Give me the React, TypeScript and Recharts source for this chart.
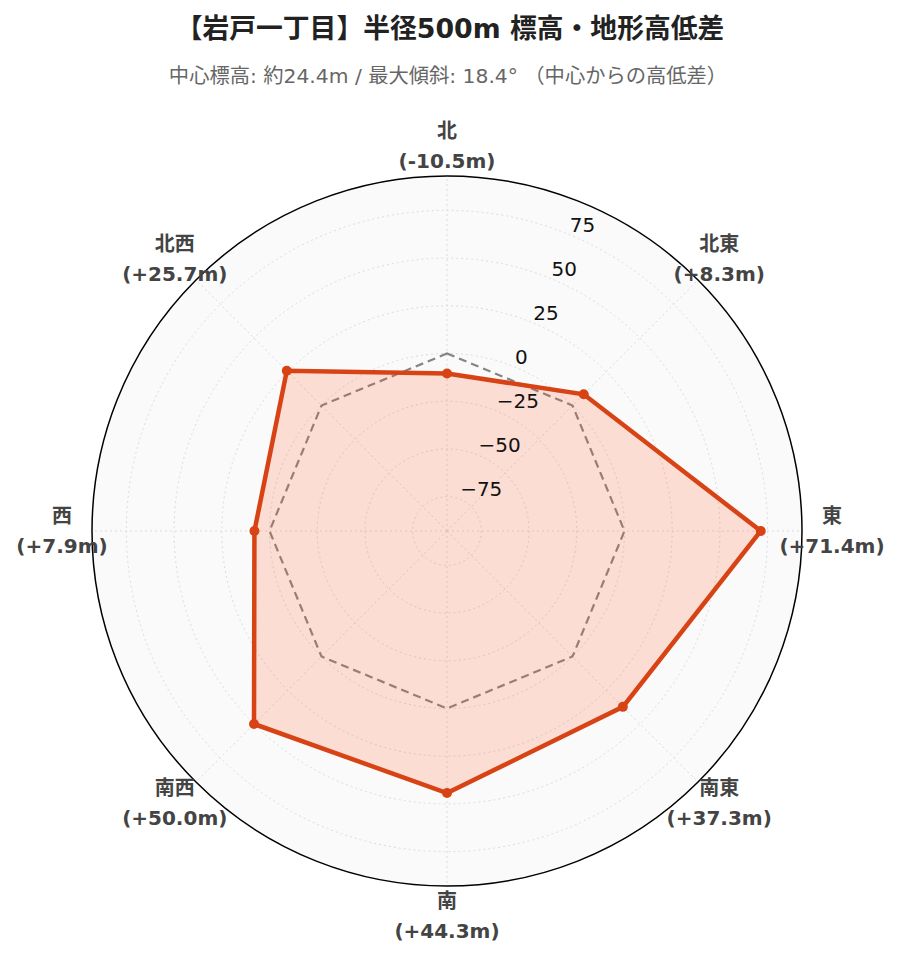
import React from 'react';
import { RadarChart, Radar, PolarGrid, PolarAngleAxis, PolarRadiusAxis } from 'recharts';

const directions = ['北', '北東', '東', '南東', '南', '南西', '西', '北西'];
const diffValues = [-10.5, 8.3, 71.4, 37.3, 44.3, 50.0, 7.9, 25.7];
const referenceValues = [0, 0, 0, 0, 0, 0, 0, 0];
const radiusTicks = [-75, -50, -25, 0, 25, 50, 75];
const radiusDomain: [number, number] = [-92.82, 92.82];

const titleText = '【岩戸一丁目】半径500m 標高・地形高低差';
const subtitleText = '中心標高: 約24.4m / 最大傾斜: 18.4° （中心からの高低差）';

const data = directions.map((d, i) => ({ dir: d, val: diffValues[i], ref: referenceValues[i] }));

const W = 900;
const H = 962;
const CX = 447;
const CY = 531;
const R = 355;
const FONT = "'DejaVu Sans', 'Noto Sans CJK JP', sans-serif";

const fmtVal = (v: number) => `(${v > 0 ? '+' : v < 0 ? '-' : ''}${Math.abs(v).toFixed(1)}m)`;

const AngleTick = (props: any) => {
  const { x, y, payload, index } = props;
  const v = diffValues[index ?? payload.index];
  return (
    <g>
      <text x={x} y={y - 15} textAnchor="middle" dominantBaseline="central" fontSize={20} fontWeight={700} fill="#444" fontFamily={FONT}>
        {payload.value}
      </text>
      <text x={x} y={y + 15} textAnchor="middle" dominantBaseline="central" fontSize={20} fontWeight={700} fill="#444" fontFamily={FONT}>
        {fmtVal(v)}
      </text>
    </g>
  );
};

const RadiusTick = (props: any) => {
  const { x, y, payload } = props;
  const v = payload.value as number;
  const label = v < 0 ? `\u2212${Math.abs(v)}` : `${v}`;
  return (
    <text x={x} y={y - 10} textAnchor="start" dominantBaseline="central" fontSize={20} fill="#111" fontFamily={FONT}>
      {label}
    </text>
  );
};

export default function App() {
  return (
    <div style={{ position: 'relative', width: W, height: H, margin: -8, background: '#fff' }}>
      <svg width={W} height={H} style={{ position: 'absolute', left: 0, top: 0 }}>
        <circle cx={CX} cy={CY} r={R} fill="#fafafa" />
        <text x={450} y={28} textAnchor="middle" dominantBaseline="central" fontSize={26.8} fontWeight={700} fill="#222" fontFamily={FONT}>
          {titleText}
        </text>
        <text x={448} y={76} textAnchor="middle" dominantBaseline="central" fontSize={20.3} fill="#666" fontFamily={FONT}>
          {subtitleText}
        </text>
      </svg>
      <div style={{ position: 'absolute', left: 0, top: 0 }}>
        <RadarChart width={W} height={H} data={data} cx={CX} cy={CY} outerRadius={R} startAngle={90} endAngle={-270} margin={{ top: 0, right: 0, bottom: 0, left: 0 }}>
          <PolarGrid gridType="circle" stroke="#d6dde3" strokeWidth={1} strokeDasharray="2 3" />
          <PolarAngleAxis dataKey="dir" tick={<AngleTick />} tickLine={false} tickSize={30} axisLineType="circle" axisLine={{ stroke: '#000', strokeWidth: 1.5 }} />
          <PolarRadiusAxis angle={67.5} domain={radiusDomain} ticks={radiusTicks} type="number" axisLine={false} tickLine={false} tick={<RadiusTick />} allowDataOverflow />
          <Radar dataKey="ref" stroke="#858585" strokeWidth={2.2} strokeDasharray="8 5" fill="none" fillOpacity={0} dot={false} isAnimationActive={false} />
          <Radar dataKey="val" stroke="#d84315" strokeWidth={4.5} fill="#ff5722" fillOpacity={0.18} dot={{ r: 5, fill: '#d84315', stroke: '#d84315', strokeWidth: 0, fillOpacity: 1 }} isAnimationActive={false} />
        </RadarChart>
      </div>
    </div>
  );
}
